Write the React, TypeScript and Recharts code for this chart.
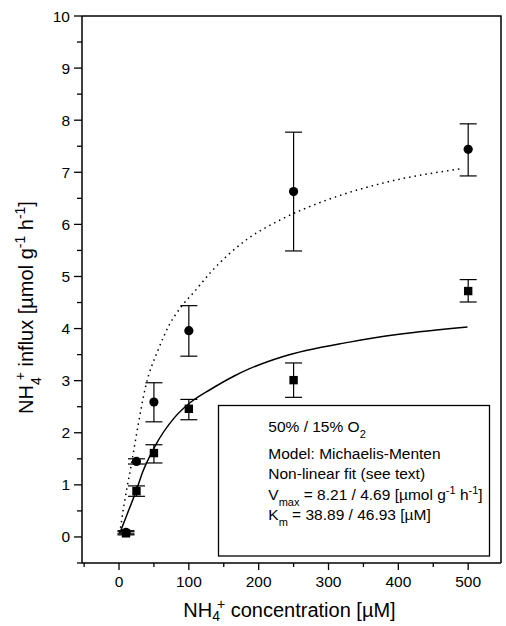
import { ComposedChart, XAxis, YAxis, Scatter, Line, ErrorBar, Customized } from 'recharts'

const FONT = '"Liberation Sans", Arial, sans-serif'

// measured points (NH4+ concentration in µM)
const concentration = [10, 25, 50, 100, 250, 500]
const influx50 = [0.09, 1.45, 2.59, 3.96, 6.63, 7.44]
const err50Low = [0.03, 0.05, 0.38, 0.49, 1.14, 0.51]
const err50High = [0.03, 0.05, 0.37, 0.48, 1.14, 0.49]
const influx15 = [0.07, 0.88, 1.61, 2.46, 3.01, 4.72]
const err15Low = [0.03, 0.1, 0.19, 0.21, 0.33, 0.21]
const err15High = [0.03, 0.1, 0.16, 0.18, 0.33, 0.22]

// fitted curves
const fit50X = [1, 8, 18, 27, 38, 56, 72, 91, 108, 132, 182, 230, 294, 377, 491]
const fit50Y = [0.07, 0.68, 1.42, 2.12, 2.88, 3.59, 4.07, 4.45, 4.71, 5.09, 5.7, 6.08, 6.45, 6.79, 7.07]
const fit15X = [1, 10, 25, 34, 51, 80, 103, 132, 165, 187, 234, 330, 401, 499]
const fit15Y = [0.07, 0.38, 0.9, 1.25, 1.73, 2.3, 2.59, 2.84, 3.09, 3.23, 3.46, 3.74, 3.89, 4.03]

const xTicks = [-50, 0, 50, 100, 150, 200, 250, 300, 350, 400, 450, 500]
const yTicks = [-0.5, 0, 0.5, 1, 1.5, 2, 2.5, 3, 3.5, 4, 4.5, 5, 5.5, 6, 6.5, 7, 7.5, 8, 8.5, 9, 9.5, 10]

const points50 = concentration.map((x, i) => ({ x, y: influx50[i], err: [err50Low[i], err50High[i]] }))
const points15 = concentration.map((x, i) => ({ x, y: influx15[i], err: [err15Low[i], err15High[i]] }))
const fit50 = fit50X.map((x, i) => ({ x, y: fit50Y[i] }))
const fit15 = fit15X.map((x, i) => ({ x, y: fit15Y[i] }))

const axisStyle = { stroke: '#000', strokeWidth: 1.5 }

const XTick = (props: any) => {
  const { x, y, payload } = props
  const major = payload.value % 100 === 0
  return (
    <g>
      <line x1={x} y1={y} x2={x} y2={y + (major ? 7 : 4)} stroke="#000" strokeWidth={1.3} />
      {major && (
        <text x={x} y={y + 24.3} textAnchor="middle" fontSize={15.5} fontFamily={FONT} fill="#000">
          {payload.value}
        </text>
      )}
    </g>
  )
}

const YTick = (props: any) => {
  const { x, y, payload } = props
  const major = Number.isInteger(payload.value)
  return (
    <g>
      <line x1={x} y1={y} x2={x - (major ? 8 : 5)} y2={y} stroke="#000" strokeWidth={1.3} />
      {major && (
        <text x={x - 12} y={y + 5.5} textAnchor="end" fontSize={15.5} fontFamily={FONT} fill="#000">
          {payload.value}
        </text>
      )}
    </g>
  )
}

const Circle = (p: any) => <circle cx={p.cx} cy={p.cy} r={4.6} fill="#000" />
const Square = (p: any) => <rect x={p.cx - 4.2} y={p.cy - 4.2} width={8.4} height={8.4} fill="#000" />

const Overlay = () => (
  <g fontFamily={FONT} fill="#000">
    {/* top and right frame lines */}
    <path d="M82 16 H501 V563" fill="none" stroke="#000" strokeWidth={1.5} />

    {/* axis titles */}
    <text x={183.3} y={617} fontSize={20}>
      NH<tspan baselineShift={-4} fontSize={14}>4</tspan>
      <tspan baselineShift="super" fontSize={14} dx={-3}>+</tspan> concentration [µM]
    </text>
    <text x={33} y={307.5} fontSize={20} textAnchor="middle" transform="rotate(-90 33 307.5)">
      NH<tspan baselineShift="sub" fontSize={14}>4</tspan>
      <tspan baselineShift="super" fontSize={14} dx={-3}>+</tspan> influx [µmol g
      <tspan baselineShift="super" fontSize={14}>-1</tspan> h<tspan baselineShift="super" fontSize={14}>-1</tspan>]
    </text>

    {/* fit box */}
    <rect x={218.5} y={405.5} width={271} height={150.5} fill="#fff" stroke="#000" strokeWidth={1.3} />
    <g fontSize={15.5}>
      <text x={268.3} y={431.7}>
        50% / 15% O<tspan baselineShift="sub" fontSize={11}>2</tspan>
      </text>
      <text x={268.3} y={459.3}>Model: Michaelis-Menten</text>
      <text x={268.3} y={479.3}>Non-linear fit (see text)</text>
      <text x={268.3} y={500}>
        V<tspan baselineShift="sub" fontSize={11}>max</tspan> = 8.21 / 4.69 [µmol g
        <tspan baselineShift="super" fontSize={11}>-1</tspan> h<tspan baselineShift="super" fontSize={11}>-1</tspan>]
      </text>
      <text x={268.3} y={520}>
        K<tspan baselineShift="sub" fontSize={11}>m</tspan> = 38.89 / 46.93 [µM]
      </text>
    </g>
  </g>
)

export default function App() {
  return (
    <div style={{ position: 'absolute', left: 0, top: 0, background: '#fff' }}>
      <ComposedChart width={506} height={626} margin={{ top: 16, right: 5, bottom: 0, left: 0 }}>
        <XAxis
          dataKey="x"
          type="number"
          domain={[-53, 547]}
          ticks={xTicks}
          interval={0}
          tickSize={0}
          tickMargin={0}
          height={63}
          axisLine={axisStyle}
          tick={XTick}
          allowDataOverflow
        />
        <YAxis
          dataKey="y"
          type="number"
          domain={[-0.5, 10]}
          ticks={yTicks}
          interval={0}
          tickSize={0}
          tickMargin={0}
          width={82}
          axisLine={axisStyle}
          tick={YTick}
          allowDataOverflow
        />

        <Line data={fit50} dataKey="y" type="monotone" stroke="#000" strokeWidth={1.5} strokeDasharray="1.5 4" dot={false} isAnimationActive={false} />
        <Line data={fit15} dataKey="y" type="monotone" stroke="#000" strokeWidth={1.5} dot={false} isAnimationActive={false} />

        <Scatter data={points50} shape={Circle} isAnimationActive={false}>
          <ErrorBar dataKey="err" direction="y" width={8.5} stroke="#000" strokeWidth={1.2} />
        </Scatter>
        <Scatter data={points15} shape={Square} isAnimationActive={false}>
          <ErrorBar dataKey="err" direction="y" width={8.5} stroke="#000" strokeWidth={1.2} />
        </Scatter>

        <Customized component={Overlay} />
      </ComposedChart>
    </div>
  )
}
